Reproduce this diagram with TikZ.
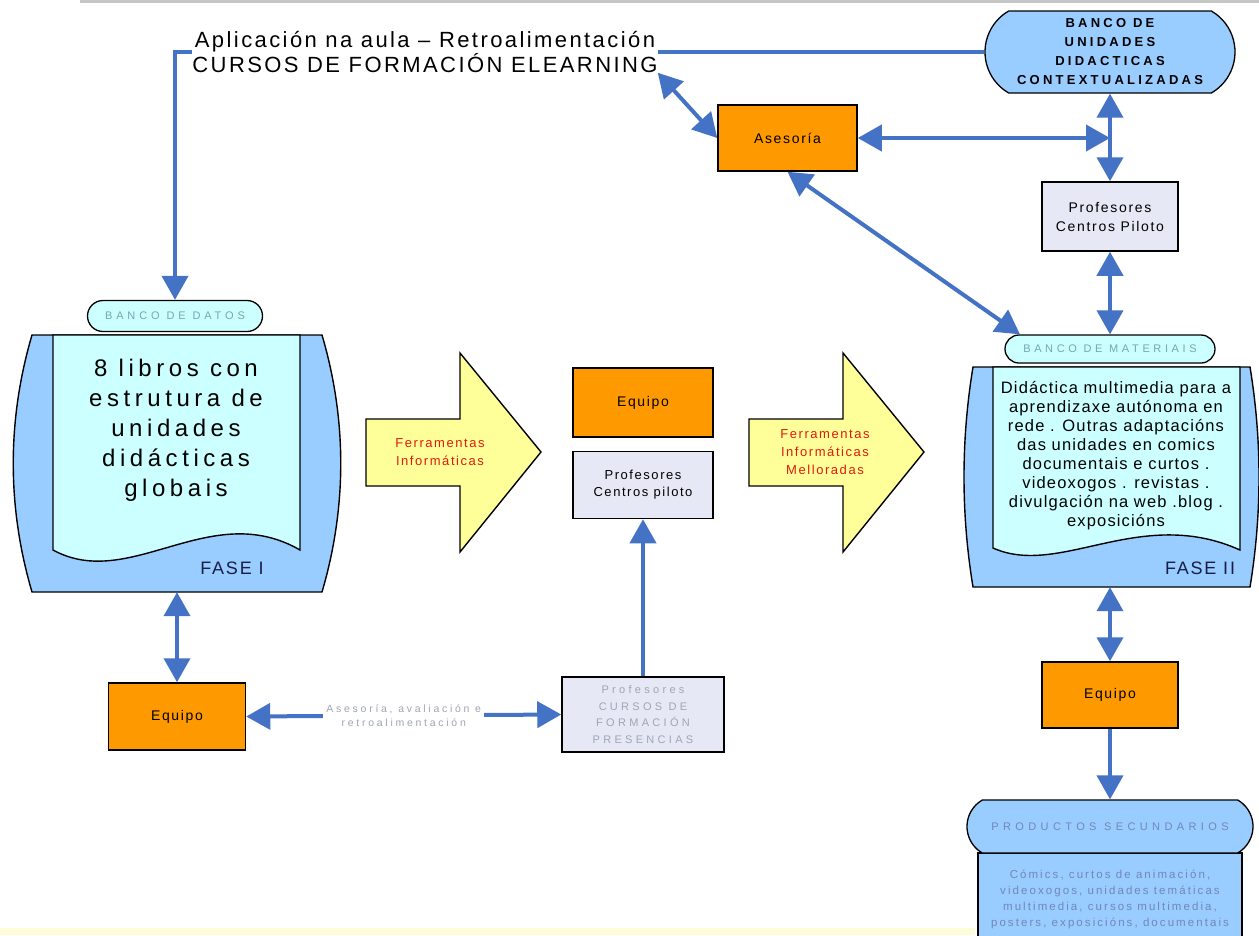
\documentclass[tikz,border=0pt]{standalone}
\usepackage{fontspec}
\setmainfont{Liberation Sans}
\usetikzlibrary{arrows.meta,shapes.misc}
\definecolor{linkblue}{RGB}{68,114,196}
\definecolor{paleblue}{RGB}{153,204,255}
\definecolor{palecyan}{RGB}{204,255,255}
\definecolor{boxorange}{RGB}{255,153,0}
\definecolor{paleyellow}{RGB}{255,255,153}
\definecolor{boxgrey}{RGB}{230,233,245}
\definecolor{tealtext}{RGB}{110,170,175}
\definecolor{redtext}{RGB}{225,25,15}
\definecolor{greytext}{RGB}{160,165,180}
\definecolor{prodtext}{RGB}{115,135,185}
\definecolor{navytext}{RGB}{25,30,70}
\newcommand\lsfont[3]{\fontsize{#1}{#2}\selectfont\addfontfeature{LetterSpace=#3}}

\tikzset{
  link/.style={draw=linkblue, line width=4pt},
  orangebox/.style={rectangle, draw=black, line width=1.5pt, fill=boxorange, minimum width=137pt, minimum height=67pt, font=\lsfont{14}{17}{12}},
  greybox/.style={rectangle, draw=black, line width=1.5pt, fill=boxgrey, align=center},
  pill/.style={rounded rectangle, draw=black, line width=1.3pt, inner sep=0pt, align=center},
  redlabel/.style={align=center, text=redtext, font=\lsfont{13}{18}{12}},
}

\begin{document}
\begin{tikzpicture}[x=1pt,y=-1pt,>={Triangle[length=24pt,width=26pt]}]
\useasboundingbox (0,0) rectangle (1259,935);
\fill[yellow!15] (0,928) rectangle (975,935);
\draw[gray!45, line width=3pt] (80,1.5) -- (1259,1.5);

% fase I
\draw[fill=paleblue, line width=1.4pt] (32,335) -- (322,335) .. controls (347,420) and (347,507) .. (322,592) -- (32,592) .. controls (7,507) and (7,420) .. (32,335) -- cycle;
\draw[fill=palecyan, line width=1.4pt] (53,335) -- (300,335) -- (300,550) .. controls (210,498) and (130,592) .. (53,550) -- cycle;
\node[pill, fill=palecyan, minimum width=175pt, minimum height=31pt, font=\lsfont{11}{13}{35}, text=tealtext] (datos) at (175,316) {BANCO DE DATOS};
\node[minimum width=290pt, minimum height=257pt, inner sep=0pt] (fase1) at (177,463.5) {};
\node[align=center, font=\lsfont{24}{30}{19}] (libros) at (176,430) {8 libros con\\estrutura de\\unidades\\didácticas\\globais};
\node[font=\lsfont{18}{20}{10}, text=navytext] (fasei) at (232,568) {FASE I};

% frechas amarelas
\foreach \i in {1,2}{
  \ifnum\i=1
    \edef\shiftx{366pt}
  \else
    \edef\shiftx{749pt}
  \fi
  \begin{scope}[xshift=\shiftx]
    \draw[fill=paleyellow, line width=1.4pt] (0,419) -- (94,419) -- (94,353) -- (175,452) -- (94,552) -- (94,486) -- (0,486) -- cycle;
  \end{scope}
}
\node[redlabel] (ferr1) at (440,452) {Ferramentas\\Informáticas};
\node[redlabel] (ferr2) at (825,452) {Ferramentas\\Informáticas\\Melloradas};

% centro
\node[orangebox, minimum width=140pt, minimum height=69pt] (equipob) at (643,402.5) {Equipo};
\node[greybox, minimum width=140pt, minimum height=67pt, font=\lsfont{13}{17}{12}] (profcp) at (643,485) {Profesores\\Centros piloto};
\node[greybox, minimum width=162pt, minimum height=75pt, text=greytext, font=\lsfont{11}{16.5}{30}] (presen) at (643,714.5) {Profesores\\CURSOS DE\\FORMACIÓN\\PRESENCIAS};
\node[orangebox] (equipoa) at (177,716.5) {Equipo};

% dereita
\node[pill, rounded rectangle arc length=120, fill=paleblue, minimum width=250pt, minimum height=82pt, font=\bfseries\lsfont{13}{19}{25}] (unidades) at (1110,52) {BANCO DE\\UNIDADES\\DIDACTICAS\\CONTEXTUALIZADAS};
\node[greybox, minimum width=136pt, minimum height=69pt, font=\lsfont{14}{19}{12}] (profpil) at (1110,216.5) {Profesores\\Centros Piloto};
\node[orangebox, minimum width=139pt, minimum height=66pt] (asesoria) at (787.5,138) {Asesoría};
\coordinate (jn) at (1110,138);

\draw[fill=paleblue, line width=1.4pt] (973,367) -- (1250,367) .. controls (1262,440) and (1262,514) .. (1250,587) -- (973,587) .. controls (961,514) and (961,440) .. (973,367) -- cycle;
\draw[fill=palecyan, line width=1.4pt] (993,367) -- (1240,367) -- (1240,550) .. controls (1140,505) and (1060,578) .. (993,548) -- cycle;
\node[pill, fill=palecyan, minimum width=210pt, minimum height=28pt, font=\lsfont{11}{13}{33}, text=tealtext] (materiais) at (1110,349) {BANCO DE MATERIAIS};
\node[minimum width=277pt, minimum height=220pt, inner sep=0pt] (fase2) at (1110,477) {};
\node[align=center, font=\lsfont{16.5}{19}{7}] (didactica) at (1116,456) {Didáctica multimedia para a\\aprendizaxe autónoma en\\rede . Outras adaptacións\\das unidades  en comics\\documentais e curtos .\\videoxogos . revistas .\\divulgación na web  .blog .\\exposicións};
\node[font=\lsfont{18}{20}{10}, text=navytext] (faseii) at (1200,568) {FASE II};

\node[orangebox, minimum width=136pt, minimum height=66pt] (equipoc) at (1110,695) {Equipo};
\draw[fill=paleblue, line width=1.4pt] (978,853) rectangle (1242,940);
\node[pill, rounded rectangle arc length=120, fill=paleblue, minimum width=286pt, minimum height=53pt, font=\lsfont{11}{13}{40}, text=prodtext] (productos) at (1110,826.5) {PRODUCTOS SECUNDARIOS};
\node[align=center, font=\lsfont{11.5}{16}{18}, text=prodtext] (prodlist) at (1110,899) {Cómics, curtos de animación,\\videoxogos, unidades temáticas\\multimedia, cursos multimedia,\\posters, exposicións, documentais};

% texto superior e ligazons
\node[fill=white, align=center, inner sep=0pt, font=\lsfont{22}{22}{11}] (elearn) at (425,52) {Aplicación na aula – Retroalimentación\\CURSOS DE FORMACIÓN ELEARNING};
\draw[link] (unidades.west) -- (elearn.east);
\draw[link,->] (elearn.west) -| (datos.north);
\draw[link,<->] (elearn.south east) -- (asesoria.west);
\draw[link,<->] (asesoria.east) -- (jn);
\draw[link,<->] (unidades.south) -- (profpil.north);
\draw[link,<->] (profpil.south) -- (materiais.north);
\draw[link,<->] (asesoria.south) -- ([xshift=-90pt]materiais.north);
\draw[link,<->] (fase1.south) -- (equipoa.north);
\draw[link,<->] (equipoa.east) -- node[fill=white, align=center, font=\lsfont{10.5}{14}{26}, text=greytext] (aval) {Asesoría, avaliación e\\retroalimentación} (presen.west);
\draw[link,->] (presen.north) -- (profcp.south);
\draw[link,<->] (fase2.south) -- (equipoc.north);
\draw[link,->] (equipoc.south) -- (productos.north);
\end{tikzpicture}
\end{document}
